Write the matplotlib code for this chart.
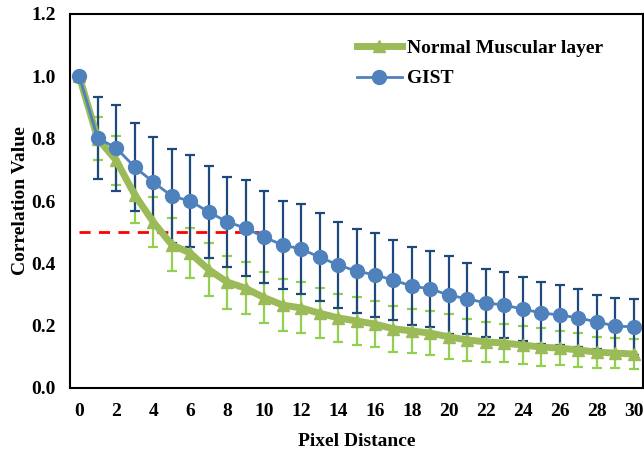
import matplotlib
matplotlib.use("Agg")
import matplotlib.pyplot as plt
import numpy as np

distance = list(range(31))
normal = [1.0, 0.80, 0.73, 0.62, 0.533, 0.46, 0.433, 0.38, 0.34, 0.32, 0.29,
          0.266, 0.257, 0.24, 0.225, 0.215, 0.205, 0.19, 0.183, 0.176, 0.164,
          0.154, 0.148, 0.144, 0.138, 0.131, 0.128, 0.122, 0.115, 0.112, 0.109]
normal_err = [0.0, 0.07, 0.08, 0.09, 0.08, 0.085, 0.08, 0.085, 0.085, 0.083, 0.082,
              0.083, 0.082, 0.08, 0.077, 0.076, 0.074, 0.074, 0.07, 0.07, 0.072,
              0.066, 0.065, 0.06, 0.06, 0.06, 0.055, 0.055, 0.05, 0.047, 0.047]
gist = [1.0, 0.802, 0.77, 0.709, 0.661, 0.616, 0.60, 0.565, 0.533, 0.513, 0.484,
        0.459, 0.446, 0.42, 0.395, 0.375, 0.363, 0.346, 0.327, 0.318, 0.298,
        0.286, 0.273, 0.266, 0.253, 0.241, 0.234, 0.225, 0.212, 0.199, 0.196]
gist_err = [0.0, 0.132, 0.138, 0.141, 0.144, 0.151, 0.148, 0.147, 0.144, 0.154, 0.148,
            0.141, 0.144, 0.141, 0.138, 0.135, 0.134, 0.129, 0.125, 0.122, 0.124,
            0.114, 0.109, 0.106, 0.103, 0.099, 0.096, 0.093, 0.088, 0.090, 0.089]
threshold = 0.5
threshold_x = [0, 9.7]
xticks = list(range(0, 31, 2))
yticks = [0.0, 0.2, 0.4, 0.6, 0.8, 1.0, 1.2]

plt.rcParams['font.family'] = ['Liberation Serif', 'DejaVu Serif']
plt.rcParams['font.weight'] = 'bold'

fig = plt.figure(figsize=(6.44, 4.49), dpi=100)
ax = fig.add_axes([70/644, 1-388/449, 573/644, 374/449])

green = '#9BBB59'
green_err = '#92D050'
blue = '#4F81BD'
blue_err = '#1F497D'

ax.errorbar(distance, normal, yerr=normal_err, fmt='none', ecolor=green_err,
            elinewidth=1.6, capsize=3.5, capthick=1.6, zorder=2)
ax.errorbar(distance, gist, yerr=gist_err, fmt='none', ecolor=blue_err,
            elinewidth=1.6, capsize=3.5, capthick=1.6, zorder=3)
ax.plot(threshold_x, [threshold, threshold], color='#FF0000', lw=2,
        dashes=(4, 3), zorder=3.5)
ax.plot(distance, normal, color=green, lw=5, marker='^', markersize=9,
        label='Normal Muscular layer', zorder=4)
ax.plot(distance, gist, color=blue, lw=2, marker='o', markersize=10,
        label='GIST', zorder=5)

ax.set_xlim(-0.5, 30.5)
ax.set_ylim(0, 1.2)
ax.set_xticks(xticks)
ax.set_yticks(yticks)
ax.set_yticklabels([f'{v:.1f}' for v in yticks])
ax.tick_params(length=0, labelsize=14)
ax.tick_params(axis='x', pad=11)
ax.tick_params(axis='y', pad=10)
for lab in ax.get_xticklabels() + ax.get_yticklabels():
    lab.set_fontweight('bold')
for s in ax.spines.values():
    s.set_linewidth(1.5)
    s.set_color('black')

ax.set_xlabel('Pixel Distance', fontsize=14, fontweight='bold', labelpad=9)
ax.set_ylabel('Correlation Value', fontsize=14, fontweight='bold', labelpad=2)

leg = ax.legend(loc='upper left', bbox_to_anchor=(0.47, 0.98), frameon=False,
                prop={'weight': 'bold', 'size': 14}, handlelength=2.3,
                labelspacing=0.68, handletextpad=0.3)

fig.savefig('out.png', dpi=100)
